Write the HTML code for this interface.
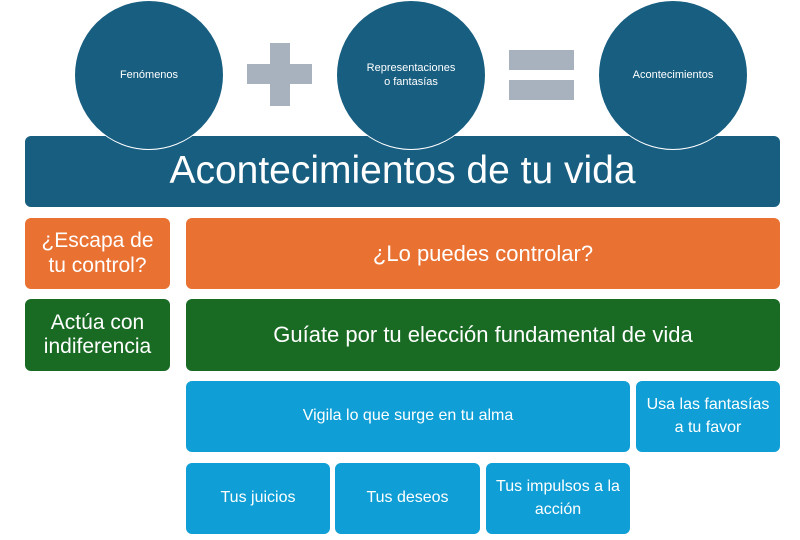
<!DOCTYPE html>
<html><head><meta charset="utf-8"><style>
body{margin:0;width:800px;height:540px;background:#fff;position:relative;overflow:hidden;font-family:"Liberation Sans",sans-serif;color:#fff}
.b{position:absolute;border-radius:6px;display:flex;align-items:center;justify-content:center;text-align:center;line-height:1.15}
.c{position:absolute;width:148px;height:148px;border-radius:50%;background:#175e80;border:1.5px solid #fff;display:flex;align-items:center;justify-content:center;text-align:center;font-size:11px;line-height:1.3}
.g{position:absolute;background:#a7b2be}
.o{background:#e97132}.gr{background:#196b24}.bl{background:#0f9ed5}
</style></head><body>
<div class="b" style="left:25px;top:136px;width:755px;height:71px;background:#175e80;font-size:39px;padding-top:0">Acontecimientos de tu vida</div>
<div class="c" style="left:74px;top:0px">Fenómenos</div>
<div class="c" style="left:336px;top:0px">Representaciones<br>o fantasías</div>
<div class="c" style="left:598px;top:0px">Acontecimientos</div>
<div class="g" style="left:270px;top:43px;width:20px;height:63px"></div>
<div class="g" style="left:247px;top:64px;width:65px;height:20px"></div>
<div class="g" style="left:509px;top:50px;width:65px;height:20px"></div>
<div class="g" style="left:509px;top:80px;width:65px;height:20px"></div>
<div class="b o" style="left:25px;top:218px;width:145px;height:71px;font-size:21px">¿Escapa de<br>tu control?</div>
<div class="b o" style="left:186px;top:218px;width:594px;height:71px;font-size:22px">¿Lo puedes controlar?</div>
<div class="b gr" style="left:25px;top:299px;width:145px;height:72px;font-size:21px">Actúa con<br>indiferencia</div>
<div class="b gr" style="left:186px;top:299px;width:594px;height:72px;font-size:22px">Guíate por tu elección fundamental de vida</div>
<div class="b bl" style="left:186px;top:381px;width:444px;height:71px;font-size:16px">Vigila lo que surge en tu alma</div>
<div class="b bl" style="left:636px;top:381px;width:144px;height:71px;font-size:16px;line-height:1.4">Usa las fantasías<br>a tu favor</div>
<div class="b bl" style="left:186px;top:463px;width:144px;height:71px;font-size:16px">Tus juicios</div>
<div class="b bl" style="left:335px;top:463px;width:145px;height:71px;font-size:16px">Tus deseos</div>
<div class="b bl" style="left:486px;top:463px;width:144px;height:71px;font-size:16px;line-height:1.4">Tus impulsos a la<br>acción</div>
</body></html>
